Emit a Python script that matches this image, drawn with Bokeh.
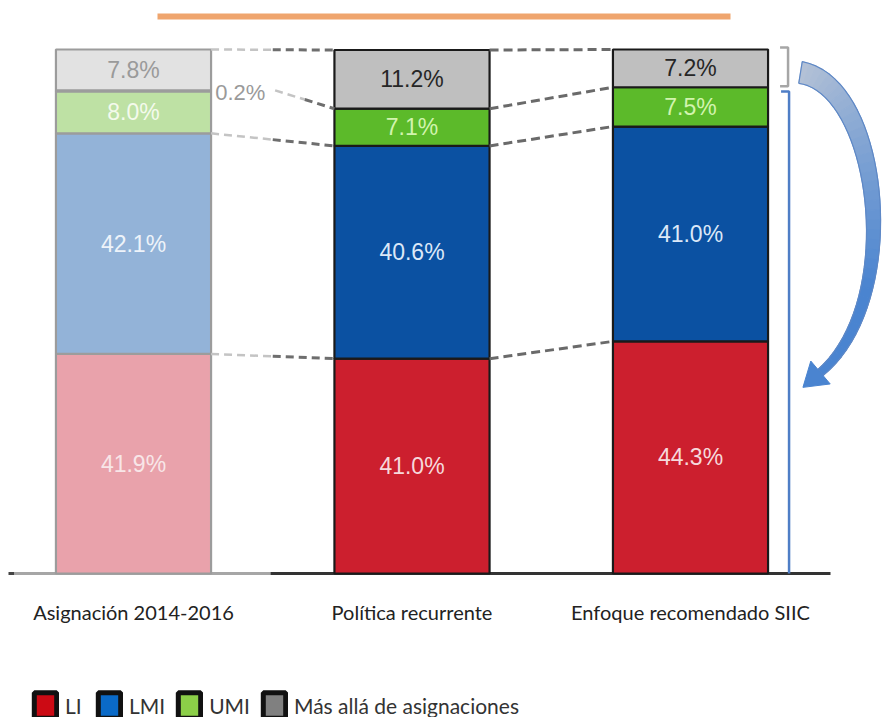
from bokeh.plotting import figure
from bokeh.models import ColumnDataSource, Range1d, Legend, LegendItem
from bokeh.core.properties import value
from bokeh.embed import file_html
from bokeh.resources import INLINE
import numpy as np

# ---------------- data ----------------
categories = ["Asignación 2014-2016", "Política recurrente", "Enfoque recomendado SIIC"]
li = [41.9, 41.0, 44.3]
lmi = [42.1, 40.6, 41.0]
umi = [8.0, 7.1, 7.5]
other = [0.2, 0.0, 0.0]
beyond = [7.8, 11.2, 7.2]
legend_labels = ["LI", "LMI", "UMI", "Más allá de asignaciones"]

# ---------------- styles ----------------
W, H = 884, 717
BAR_W = 0.557
main_fill = ["#CC1F2E", "#0B51A2", "#5CBA2A", "#7F7F7F", "#BFBFBF"]
faded_fill = ["#E9A2AB", "#93B3D8", "#BEE1A4", "#8A8A8A", "#E2E2E2"]
main_text = ["#F6D9DC", "#DCE8F8", "#D2F4AE", None, "#262626"]
faded_text = ["#F8E6E8", "#EEF3FA", "#F4FAEC", None, "#9A9A9A"]
legend_fill = ["#CC0A14", "#0A6AC8", "#8CCF48", "#808080"]

# pixel -> data helpers (for decorations only)
def dx(px):
    return (px - 133.0) / 278.5

def dy(py):
    return (573.0 - py) / 5.24

p = figure(width=W, height=H, output_backend="svg", toolbar_location=None,
           x_range=Range1d(dx(0), dx(W)), y_range=Range1d(dy(H), dy(0)),
           x_axis_location=None, y_axis_location=None,
           min_border=0, min_border_left=0, min_border_right=0,
           min_border_top=0, min_border_bottom=0)
p.outline_line_color = None
p.xgrid.visible = False
p.ygrid.visible = False
p.background_fill_color = "white"

series = [li, lmi, umi, other, beyond]
xs = list(range(len(categories)))

# ---------------- orange line on top ----------------
p.line([dx(157), dx(730)], [dy(16), dy(16)], line_color="#EFA56E", line_width=6)

# ---------------- baseline ----------------
p.line([dx(8), dx(14)], [0, 0], line_color="#444444", line_width=3)
p.line([dx(14), dx(270)], [0, 0], line_color="#A6A6A6", line_width=3)
p.line([dx(270), dx(830)], [0, 0], line_color="#333333", line_width=3)

# ---------------- stacked bars ----------------
seg = dict(x=[], bottom=[], top=[], fill=[], line=[])
lab = dict(x=[], y=[], text=[], color=[])
cums = []
for i in xs:
    base = 0.0
    levels = []
    for s, vals in enumerate(series):
        v = vals[i]
        if v <= 0:
            levels.append(base)
            continue
        fills = faded_fill if i == 0 else main_fill
        tcols = faded_text if i == 0 else main_text
        seg["x"].append(i)
        seg["bottom"].append(base)
        seg["top"].append(base + v)
        seg["fill"].append(fills[s])
        seg["line"].append("#9C9C9C" if i == 0 else "#1A1A1A")
        if tcols[s] is not None:
            lab["x"].append(i)
            lab["y"].append(base + v / 2)
            lab["text"].append(f"{v:.1f}%")
            lab["color"].append(tcols[s])
        base += v
        levels.append(base)
    cums.append(levels)

src = ColumnDataSource(seg)
p.vbar(x="x", bottom="bottom", top="top", width=BAR_W, source=src,
       fill_color="fill", line_color="line", line_width=2.2)

lsrc = ColumnDataSource(lab)
p.text(x="x", y="y", text="text", text_color="color", source=lsrc,
       text_align="center", text_baseline="middle",
       text_font=value("Liberation Sans"), text_font_size="23px")

# small 0.2% label outside first bar
p.text(x=[xs[0] + BAR_W / 2 + 0.015], y=[cums[0][3] - 0.4], text=[f"{other[0]:.1f}%"],
       text_color="#9A9A9A", text_align="left", text_baseline="middle",
       text_font=value("Liberation Sans"), text_font_size="22px")

# ---------------- dashed connectors ----------------
for i in range(len(xs) - 1):
    a, b = cums[i], cums[i + 1]
    x0 = xs[i] + BAR_W / 2
    x1 = xs[i + 1] - BAR_W / 2
    pairs = [(a[0], b[0]), (a[1], b[1]), (a[3], b[3]), (a[4], b[4])]
    for k, (ya, yb) in enumerate(pairs):
        sx = x0 + (0.23 if (i == 0 and k == 2) else 0.0)
        if i == 0:
            mx = (sx + x1) / 2
            ym = ya + (yb - ya) * (mx - sx) / (x1 - sx)
            p.line([sx, mx], [ya, ym], line_color="#C4C4C4", line_width=2.5, line_dash="8 5")
            p.line([mx, x1], [ym, yb], line_color="#6E6E6E", line_width=3, line_dash="8 5")
        else:
            p.line([sx, x1], [ya, yb], line_color="#6A6A6A", line_width=3, line_dash="9 5")

# ---------------- bracket and blue line on the right ----------------
rx = xs[-1] + BAR_W / 2
c3 = cums[-1]
off = lambda px: rx + dx(px) - dx(767)
p.line([off(779), off(787), off(787), off(779)],
       [c3[4] + 0.4, c3[4] + 0.4, c3[3] + 0.2, c3[3] + 0.2], line_color="#A6A6A6", line_width=2.5)
p.line([off(780), off(788), off(788)],
       [c3[3] - 0.8, c3[3] - 0.8, 0], line_color="#4F7EC6", line_width=2.5)

# ---------------- curved arrow ----------------
P0 = np.array([800.0, 72.0]); P1 = np.array([880.0, 85.0])
P2 = np.array([905.0, 300.0]); P3 = np.array([820.0, 372.0])
t = np.linspace(0, 1, 41)
pts = ((1 - t) ** 3)[:, None] * P0 + (3 * (1 - t) ** 2 * t)[:, None] * P1 + \
      (3 * (1 - t) * t ** 2)[:, None] * P2 + (t ** 3)[:, None] * P3
der = (3 * (1 - t) ** 2)[:, None] * (P1 - P0) + (6 * (1 - t) * t)[:, None] * (P2 - P1) + \
      (3 * t ** 2)[:, None] * (P3 - P2)
tan = der / np.linalg.norm(der, axis=1)[:, None]
nrm = np.stack([-tan[:, 1], tan[:, 0]], axis=1)
hw = 11 - 7.0 * t
left = pts + nrm * hw[:, None]
right = pts - nrm * hw[:, None]

def mix(c1, c2, f):
    a = [int(c1[j:j + 2], 16) for j in (1, 3, 5)]
    b = [int(c2[j:j + 2], 16) for j in (1, 3, 5)]
    return "#%02x%02x%02x" % tuple(int(round(a[k] + (b[k] - a[k]) * f)) for k in range(3))

pxs, pys, cols = [], [], []
for k in range(len(t) - 1):
    quad = [left[k], left[k + 1], right[k + 1], right[k]]
    pxs.append([dx(q[0]) for q in quad])
    pys.append([dy(q[1]) for q in quad])
    cols.append(mix("#B3C1D6", "#4A84D0", min(1, t[k] * 1.4)))
p.patches(pxs, pys, fill_color=cols, line_color=cols, line_width=1)
outline = np.vstack([left, right[::-1], left[:1]])
p.line([dx(q[0]) for q in outline], [dy(q[1]) for q in outline], line_color="#5E88C6", line_width=1.2)
d = tan[-1]; n = nrm[-1]
tip = P3 + d * 23
b1 = P3 + n * 15
b2 = P3 - n * 15
p.patch([dx(b1[0]), dx(tip[0]), dx(b2[0])], [dy(b1[1]), dy(tip[1]), dy(b2[1])],
        fill_color="#4A84D0", line_color="#4A84D0", line_width=1)

# ---------------- category labels ----------------
p.text(x=xs, y=[dy(611)] * len(xs), text=categories, text_color="#222222",
       text_align="center", text_baseline="middle",
       text_font=value("Lato"), text_font_size="20px")

# ---------------- legend ----------------
items = []
for col, name in zip(legend_fill, legend_labels):
    r = p.vbar(x=np.array([np.nan]), top=np.array([np.nan]), width=0.5, fill_color=col,
               line_color="#111111", line_width=5)
    items.append(LegendItem(label=name, renderers=[r]))
legend = Legend(items=items, orientation="horizontal", location=(31, -4),
                glyph_width=28, glyph_height=32, label_standoff=6, spacing=10,
                padding=0, margin=0, border_line_alpha=0, background_fill_alpha=0,
                label_text_font="Lato", label_text_font_size="21px", label_text_color="#333333")
p.add_layout(legend)

open("out.html", "w").write(file_html(p, INLINE))
